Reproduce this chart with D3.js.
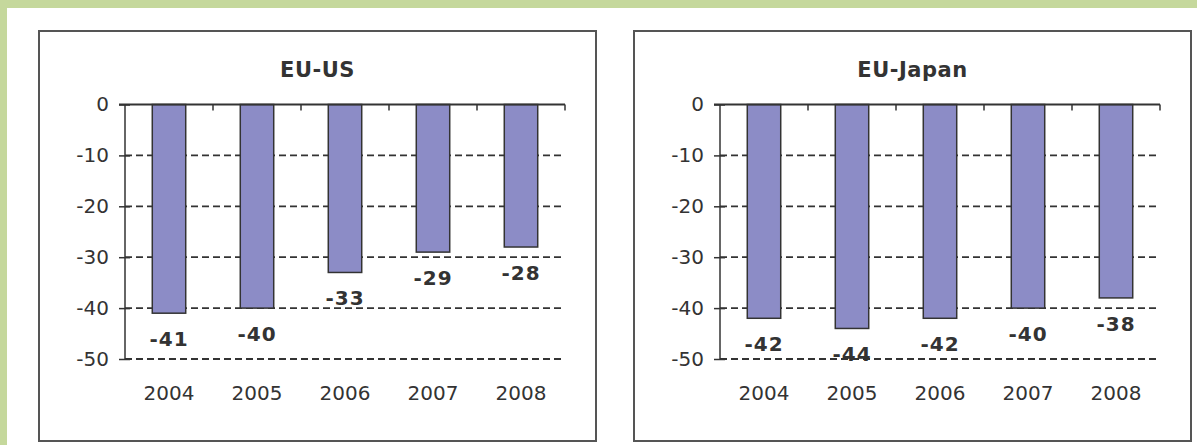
<!DOCTYPE html>
<html>
<head>
<meta charset="utf-8">
<title>EU trade balance</title>
<style>
  body { margin: 0; background: #c5d89c; }
  svg { display: block; }
  text { font-family: "DejaVu Sans", Verdana, sans-serif; fill: #333; }
</style>
</head>
<body>
<div id="chart"></div>
<script src="https://d3js.org/d3.v7.min.js"></script>
<script>
var years = ["2004", "2005", "2006", "2007", "2008"];
var euUs = [-41, -40, -33, -29, -28];
var euJapan = [-42, -44, -42, -40, -38];
var yTicks = [0, -10, -20, -30, -40, -50];

var panels = [
  { title: "EU-US", values: euUs },
  { title: "EU-Japan", values: euJapan }
];

var width = 1197, height = 445;

var svg = d3.select("#chart").append("svg")
  .attr("width", width)
  .attr("height", height);

// white sheet over the green frame
svg.append("rect")
  .attr("x", 7).attr("y", 8)
  .attr("width", width - 7).attr("height", height - 8)
  .attr("fill", "#fff");

var boxW = 557, boxH = 410, boxGap = 595;
var plotLeft = 86, plotRight = 526, plotTop = 73.5, plotBottom = 328;

var x = d3.scaleBand()
  .domain(years)
  .range([plotLeft, plotRight])
  .paddingInner(0.62)
  .paddingOuter(0.31);

var y = d3.scaleLinear()
  .domain([-50, 0])
  .range([plotBottom, plotTop]);

panels.forEach(function(p, i) {
  var g = svg.append("g")
    .attr("transform", "translate(" + (39 + i * boxGap) + ",31)");

  g.append("rect")
    .attr("width", boxW).attr("height", boxH)
    .attr("fill", "#fff")
    .attr("stroke", "#555")
    .attr("stroke-width", 2);

  g.append("text")
    .attr("x", boxW / 2).attr("y", 46)
    .attr("text-anchor", "middle")
    .style("font-weight", "bold")
    .style("font-size", "21px")
    .style("letter-spacing", "0.5px")
    .text(p.title);

  // dashed gridlines
  g.selectAll(".grid")
    .data(yTicks.filter(function(d) { return d !== 0; }))
    .enter().append("line")
    .attr("x1", plotLeft).attr("x2", plotRight)
    .attr("y1", function(d) { return y(d); })
    .attr("y2", function(d) { return y(d); })
    .attr("stroke", "#333")
    .attr("stroke-width", 1.8)
    .attr("stroke-dasharray", "7,4");

  g.selectAll(".bar")
    .data(p.values)
    .enter().append("rect")
    .attr("x", function(d, j) { return x(years[j]); })
    .attr("y", y(0))
    .attr("width", x.bandwidth())
    .attr("height", function(d) { return y(d) - y(0); })
    .attr("fill", "#8c8cc6")
    .attr("stroke", "#333")
    .attr("stroke-width", 1.5);

  // y axis
  var yAxis = g.append("g")
    .attr("transform", "translate(" + plotLeft + ",0)")
    .call(d3.axisLeft(y).tickValues(yTicks).tickSize(6).tickPadding(10)
      .tickFormat(function(d) { return String(d); }));
  yAxis.select(".domain").attr("stroke", "#333").attr("stroke-width", 1.5)
    .attr("d", "M0," + y(-50) + "V" + y(0));
  yAxis.selectAll(".tick line").attr("x1", -6).attr("x2", 5)
    .attr("stroke", "#333").attr("stroke-width", 1.5);
  yAxis.selectAll(".tick text")
    .style("font-size", "20px")
    .style("font-family", "'DejaVu Sans', Verdana, sans-serif")
    .attr("fill", "#333");

  // x axis along zero line, ticks at category boundaries
  g.append("line")
    .attr("x1", plotLeft - 6).attr("x2", plotRight)
    .attr("y1", y(0)).attr("y2", y(0))
    .attr("stroke", "#333").attr("stroke-width", 2);
  g.selectAll(".xtick")
    .data(years)
    .enter().append("line")
    .attr("x1", function(d) { return x(d) + x.bandwidth() / 2 + x.step() / 2; })
    .attr("x2", function(d) { return x(d) + x.bandwidth() / 2 + x.step() / 2; })
    .attr("y1", y(0)).attr("y2", y(0) + 6)
    .attr("stroke", "#333").attr("stroke-width", 1.5);

  g.selectAll(".year")
    .data(years)
    .enter().append("text")
    .attr("x", function(d) { return x(d) + x.bandwidth() / 2; })
    .attr("y", 369)
    .attr("text-anchor", "middle")
    .style("font-size", "20px")
    .text(function(d) { return d; });

  g.selectAll(".lbl")
    .data(p.values)
    .enter().append("text")
    .attr("x", function(d, j) { return x(years[j]) + x.bandwidth() / 2; })
    .attr("y", function(d) { return y(d) + 33; })
    .attr("text-anchor", "middle")
    .style("font-weight", "bold")
    .style("font-size", "20px")
    .style("letter-spacing", "1px")
    .text(function(d) { return d; });
});
</script>
</body>
</html>
